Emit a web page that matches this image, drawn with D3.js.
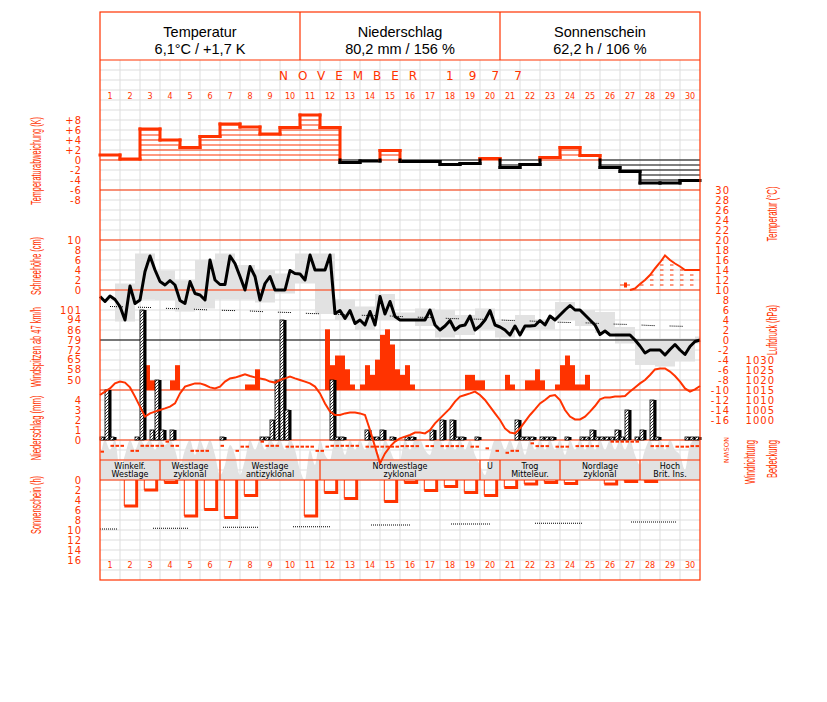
<!DOCTYPE html>
<html>
<head>
<meta charset="utf-8">
<script src="https://cdn.jsdelivr.net/npm/d3@7"></script>
<style>
  body { margin: 0; background: #fff; }
  svg { display: block; }
</style>
</head>
<body>
<svg id="chart" width="827" height="702"></svg>
<script>
// ---- data ----
const headerTitles = ["Temperatur", "Niederschlag", "Sonnenschein"];
const headerValues = ["6,1°C / +1,7 K", "80,2 mm / 156 %", "62,2 h / 106 %"];
const monthName = "NOVEMBER";
const yearName = "1977";
const days = [1,2,3,4,5,6,7,8,9,10,11,12,13,14,15,16,17,18,19,20,21,22,23,24,25,26,27,28,29,30];

// daily temperature deviation (K)
const tempDev = [1.0,0.2,6.2,4.0,2.5,4.7,7.2,6.6,5.2,6.5,9.0,6.5,-0.5,-0.2,1.9,-0.3,-0.3,-0.9,-0.7,0.3,
  -1.5,-0.9,0.5,2.5,0.9,-1.5,-2.3,-4.6,-4.6,-4.1];

// air temperature every 6 h (°C), 121 values
const tempAir = [
  8.7,7.7,8.8,8.1, 6.7,4.0,10.8,7.3, 8.0,13.7,16.8,14.0, 11.7,11.0,11.9,11.0, 7.9,7.3,11.7,9.3,
  9.0,8.0,16.0,12.0, 11.1,11.1,16.8,15.3, 12.7,10.0,14.7,12.7, 8.0,11.3,12.7,10.0, 10.0,10.0,13.9,13.3,
  13.2,12.0,17.0,14.0, 14.0,14.0,17.0,5.3, 5.9,4.3,5.9,3.3, 4.0,3.0,5.7,3.0, 8.7,5.2,7.7,4.7,
  4.0,4.0,4.0,4.0, 4.0,4.0,6.0,3.0, 2.0,2.8,3.9,2.0, 2.8,3.0,4.8,2.0, 2.8,4.0,5.9,3.0,
  2.6,2.0,1.0,2.8, 1.0,2.8,2.8,2.9, 3.9,3.0,4.8,4.0, 5.0,6.0,6.9,6.0, 6.0,5.0,4.0,3.0,
  1.1,1.8,1.0,1.0, 1.0,1.0,1.0,0.0, -1.2,-2.6,-2.0,-2.0, -2.0,-3.0,-1.9,-0.9, -2.0,-2.9,-1.3,-0.3,
  0.0];
const tempMax = [11.3,17.3,13.9,11.9,16.0,17.3,15.0,14.0,13.3,17.3,17.3,8.1,6.7,9.2,5.5,6.3,6.0,5.0,6.3,3.7,
  5.0,4.0,7.6,6.0,5.6,2.6,0.3,0.3,0.3,0.7];
const tempMin = [3.7,8.1,8.0,5.7,6.3,8.1,8.1,7.5,9.3,11.3,5.2,4.0,2.0,4.0,3.8,2.8,0.5,1.0,2.1,0.5,
  2.0,2.1,4.0,2.8,1.4,-0.7,-5.0,-5.3,-4.3,-0.7];
const tempNormal = [6.7,6.6,6.5,6.3,6.2,6.0,5.9,5.8,5.6,5.5,5.3,5.2,5.0,4.9,4.8,4.6,4.5,4.3,4.2,4.1,
  3.9,3.8,3.6,3.5,3.4,3.2,3.1,2.9,2.8,2.7];

// snow depth (cm) every 6 h from slot 106 on
const snowStartSlot = 106;
const snowDepth = [0,0.3,1.2,2.0,3.0,4.3,5.5,6.9,6.0,5.3,4.7,4.0,4.0,4.0,4.0];
const snowMarkDay = [27];
const snowMarkCm = [1];

// wind gusts per 6 h (km/h), 0 = none
const windGust = [
  0,0,0,0, 0,0,0,0, 0,61,50,0, 0,0,50,61, 0,0,0,0, 0,0,0,0, 0,0,0,0, 0,47,47,58,
  0,0,0,0, 0,0,0,0, 0,0,0,0, 0,87,61,68, 68,58,47,0, 47,61,54,65, 83,87,76,58, 54,61,47,0,
  0,0,0,0, 0,0,0,0, 0,54,54,50, 50,0,0,0, 0,54,47,0, 0,50,50,58, 50,0,0,47, 61,68,61,47,
  47,54,0,0, 0,0,0,0, 0,0,0,0, 0,0,0,0, 0,0,0,0, 0,0,0,0];

// precipitation per 6 h (mm)
const precip = [
  0.1,5.0,0.1,0, 0,0,0,0.1, 13.0,0,1.0,6.0, 1.0,0,1.0,0, 0,0,0,0, 0,0,0,0, 0.2,0,0,0, 0,0,0,0,
  0.1,0.1,2.0,6.0, 12.0,3.0,0,0, 0,0,0,0, 0,0,6.0,0.1, 0.1,0,0,0, 0,1.0,0.1,0.1, 1.0,0,0.1,0, 0,0.1,0.1,0,
  0,0,1.0,0, 2.0,0,2.0,0.1, 0.1,0,0,0.1, 0,0,0,0, 0,0,0,2.0, 0.1,0.1,0.1,0, 0.1,0.1,0.1,0, 0,0.1,0,0,
  0.1,0.1,1.0,0.1, 0.1,0.1,0.1,1.0, 0.1,3.0,0,0.1, 1.0,0,4.0,0.1, 0,0,0,0, 0,0.1,0.1,0.1];

// air pressure every 6 h (hPa), 121 values
const pressure = [
  1012.5,1014.2,1015.8,1018.3,1019.2,1018.7,1016.3,1011.7,1006.7,1001.7,1003.3,1004.2,1005,1005.8,1006.7,1008.3,
  1013.3,1016.7,1017.5,1018.3,1018.3,1017.5,1016.3,1015.8,1016.7,1019.2,1020.8,1021.2,1022,1022.8,1022,1021.3,
  1020.8,1020.3,1019.2,1018.7,1020,1020.8,1021.7,1020.8,1020,1019.2,1018.3,1016.7,1013.3,1008.3,1004.2,1002.5,
  1002.5,1003.3,1003.7,1003.7,1003.3,1002.5,995,986.7,978.3,983.3,986.7,989.2,990.8,991.7,992.5,993.7,993.7,
  993.3,995,998.3,1000.8,1003.3,1005.8,1009.2,1011.7,1012.5,1013.3,1014.2,1012.5,1010,1006.7,1003.3,1000,
  995.8,993.7,993.3,995.8,999.2,1002.5,1005.3,1008.3,1010,1012,1012.5,1010,1005,1001.7,1000.3,1000.3,1001.7,
  1004.2,1007,1010.3,1011.3,1011.3,1011.7,1011.7,1012,1014.2,1016.3,1018.3,1020,1022.5,1025.3,1025.8,1025.8,
  1024.2,1022,1019.2,1015.8,1014.2,1015.3,1017];

// sunshine per day (h) and possible sunshine segments [from, to (days), hours]
const sunshine = [0,5.2,2.0,0.5,7.2,5.9,7.5,3.1,0,0,7.2,2.5,3.7,0,4.3,0.5,2.1,1.3,2.5,3.1,
  1.5,0.8,0.5,0.7,0,0.8,0.3,0.3,0,0];
const sunPossible = [[0,0.9,9.8],[2.65,4.4,9.65],[6.15,7.9,9.45],[9.65,11.5,9.35],[13.55,15.5,9.0],
  [17.55,19.5,8.8],[21.75,24.1,8.65],[26.55,28.8,8.4]];

// cloud cover every 6 h (octas), 121 values
const cloud = [
  4,8,6,8, 2,5,8,6, 8,7,8,6, 8,7,8,6, 3,6,8,5, 8,6,8,5, 1,3,7,5, 1,4,8,6, 8,6,8,7, 8,6,8,6,
  2,0,6,3, 8,5,4,8, 8,5,8,6, 8,6,8,6, 5,8,6,4, 4,8,6,8, 8,6,5,8, 8,6,8,6, 8,6,8,5, 3,1,5,8,
  8,6,8,6, 8,5,8,6, 8,6,8,6, 8,5,8,6, 8,6,8,6, 8,6,8,6, 8,6,8,5, 3,6,8,6, 8,6,8,6, 5,2,7,8, 8];

// wind direction every 6 h (degrees), null = calm
const windDir = [
  210,null,105,105, 105,null,195,195, 105,105,105,105, 105,30,105,105, null,null,195,195,
  195,195,null,null, 105,null,null,195, 120,120,null,null, 30,105,105,105, null,120,120,120,
  120,120,120,195, 195,120,105,105, 105,105,105,105, null,120,120,120, 120,120,120,120,
  110,110,110,110, null,110,110,null, 110,110,110,110, 110,null,120,120, null,150,null,195,
  null,230,195,195, null,null,60,110, 110,110,null,120, 120,120,null,110, 110,110,110,110,
  null,null,30,30, 30,30,30,30, null,null,110,110, 110,110,null,120, 120,120,110,110];

// Grosswetterlagen
const wxFrom = [1,4,7,12,20,21,24,28];
const wxTo = [3,6,11,19,20,23,27,30];
const wxLine1 = ["Winkelf.","Westlage","Westlage","Nordwestlage","U","Trog","Nordlage","Hoch"];
const wxLine2 = ["Westlage","zyklonal","antizyklonal","zyklonal","","Mitteleur.","zyklonal","Brit. Ins."];

// tick values
const devTicks = [8,6,4,2,0,-2,-4,-6,-8];
const snowTicks = [10,8,6,4,2,0];
const windTicks = [101,94,86,79,72,65,58,50];
const precTicks = [4,3,2,1,0];
const sunTicks = [0,2,4,6,8,10,12,14,16];
const tempTicks = [30,28,26,24,22,20,18,16,14,12,10,8,6,4,2,0,-2,-4,-6,-8,-10,-12,-14,-16];
const presTicks = [1030,1025,1020,1015,1010,1005,1000];

// ---- drawing ----
const RED = "#ff3300";
const GRID = "#dddddd";
const FILL = "#e2e2e2";
const FONT = "DejaVu Sans, sans-serif";
const NARROW = "Liberation Sans Narrow, Liberation Sans, sans-serif";

const fL = 100, fR = 700, fT = 12, fB = 580;

const x = d3.scaleLinear().domain([0, 30]).range([fL, fR]);
const slotX = i => x(i / 4);
const yDev = d3.scaleLinear().domain([-8, 8]).range([200, 120]);
const yTemp = d3.scaleLinear().domain([-16, 30]).range([420, 190]);
const ySnow = d3.scaleLinear().domain([0, 10]).range([290, 240]);
const yWind = d3.scaleLinear().domain([43, 101]).range([390, 310]);
const yPrec = d3.scaleLinear().domain([0, 4]).range([440, 400]);
const yPres = d3.scaleLinear().domain([1000, 1030]).range([420, 360]);
const ySun = d3.scaleLinear().domain([0, 16]).range([480, 560]);
const yCloud = d3.scaleLinear().domain([0, 8]).range([480, 440]);
const yDir = d3.scaleLinear().domain([0, 360]).range([440, 460]);

const svg = d3.select("#chart");
const defs = svg.append("defs");

const hatch = defs.append("pattern")
    .attr("id", "hatch")
    .attr("patternUnits", "userSpaceOnUse")
    .attr("width", 3).attr("height", 3);
hatch.append("rect").attr("width", 3).attr("height", 3).attr("fill", "#fff");
hatch.append("path")
    .attr("d", "M-1,1 l2,-2 M0,3 l3,-3 M2,4 l2,-2")
    .attr("stroke", "#000").attr("stroke-width", 0.8);

// grid
const grid = svg.append("g");
grid.selectAll("line.v").data(days.slice(0, 29)).join("line")
    .attr("x1", d => x(d)).attr("x2", d => x(d))
    .attr("y1", 60).attr("y2", fB)
    .attr("stroke", GRID);
grid.selectAll("line.h").data(d3.range(70, fB, 10)).join("line")
    .attr("x1", fL).attr("x2", fR)
    .attr("y1", d => d).attr("y2", d => d)
    .attr("stroke", GRID);

// cloud cover
const cloudArea = d3.area()
    .x((d, i) => slotX(i))
    .y0(yCloud(0))
    .y1(d => yCloud(d))
    .curve(d3.curveMonotoneX);
svg.append("path")
    .attr("d", cloudArea(cloud))
    .attr("fill", FILL);

// daily temperature range boxes
svg.append("g").selectAll("rect").data(days).join("rect")
    .attr("x", d => x(d - 0.25))
    .attr("width", d => Math.min(x(d + 0.75), fR) - x(d - 0.25))
    .attr("y", (d, i) => yTemp(tempMax[i]))
    .attr("height", (d, i) => yTemp(tempMin[i]) - yTemp(tempMax[i]))
    .attr("fill", FILL);

// red panel separators
svg.append("g").selectAll("line").data([60, 190, 240, 290, 390, 440, 460, 480]).join("line")
    .attr("x1", fL).attr("x2", fR)
    .attr("y1", d => d).attr("y2", d => d)
    .attr("stroke", RED).attr("stroke-width", 1.2);

// 0 °C line
svg.append("line")
    .attr("x1", fL).attr("x2", fR)
    .attr("y1", yTemp(0)).attr("y2", yTemp(0))
    .attr("stroke", "#000");

// temperature deviation: hatch lines
const devG = svg.append("g");
const hatchLines = [];
tempDev.forEach((v, k) => {
  const s = v >= 0 ? 1 : -1;
  for (let j = 0; j <= Math.floor(Math.abs(v)); j++) hatchLines.push({ day: k + 1, val: s * j, col: v >= 0 ? RED : "#000" });
});
devG.selectAll("line.hl").data(hatchLines).join("line")
    .attr("x1", d => x(d.day - 1)).attr("x2", d => x(d.day))
    .attr("y1", d => yDev(d.val)).attr("y2", d => yDev(d.val))
    .attr("stroke", d => d.col);

// temperature deviation: thick outline
devG.selectAll("line.top").data(tempDev).join("line")
    .attr("x1", (v, i) => x(i)).attr("x2", (v, i) => x(i + 1))
    .attr("y1", v => yDev(v)).attr("y2", v => yDev(v))
    .attr("stroke", v => v >= 0 ? RED : "#000")
    .attr("stroke-width", 3).attr("stroke-linecap", "square");
const connectors = [];
for (let k = 0; k < tempDev.length - 1; k++) {
  const a = tempDev[k], b = tempDev[k + 1];
  const hi = Math.max(a, b), lo = Math.min(a, b);
  if (lo >= 0) connectors.push({ t: k + 1, y1: hi, y2: lo, col: RED });
  else if (hi < 0) connectors.push({ t: k + 1, y1: hi, y2: lo, col: "#000" });
  else {
    connectors.push({ t: k + 1, y1: hi, y2: 0, col: RED });
    connectors.push({ t: k + 1, y1: 0, y2: lo, col: "#000" });
  }
}
devG.selectAll("line.con").data(connectors).join("line")
    .attr("x1", d => x(d.t)).attr("x2", d => x(d.t))
    .attr("y1", d => yDev(d.y1)).attr("y2", d => yDev(d.y2))
    .attr("stroke", d => d.col)
    .attr("stroke-width", 3).attr("stroke-linecap", "square");

// snow depth
const snowArea = d3.area()
    .x((d, i) => slotX(snowStartSlot + i))
    .y0(ySnow(0))
    .y1(d => ySnow(d));
defs.append("clipPath").attr("id", "snowclip")
    .append("path").attr("d", snowArea(snowDepth));
svg.append("g").attr("clip-path", "url(#snowclip)")
    .selectAll("line").data([1,2,3,4,5,6,7,8,9]).join("line")
    .attr("x1", fL).attr("x2", fR)
    .attr("y1", d => ySnow(d)).attr("y2", d => ySnow(d))
    .attr("stroke", RED).attr("stroke-dasharray", "3.5,6.5");
svg.append("path")
    .attr("d", d3.line().x((d, i) => slotX(snowStartSlot + i)).y(d => ySnow(d))(snowDepth))
    .attr("fill", "none").attr("stroke", RED).attr("stroke-width", 2);
snowMarkDay.forEach((d, i) => {
  svg.append("line")
      .attr("x1", x(d - 1)).attr("x2", x(d - 0.5))
      .attr("y1", ySnow(snowMarkCm[i])).attr("y2", ySnow(snowMarkCm[i]))
      .attr("stroke", RED);
  svg.append("rect")
      .attr("x", x(d - 0.8)).attr("y", ySnow(snowMarkCm[i]) - 2.5)
      .attr("width", 3).attr("height", 5).attr("fill", RED);
});

// climatological temperature (dotted)
svg.append("path")
    .attr("d", d3.line().x((v, i) => x(i + 0.5)).y(v => yTemp(v))(tempNormal))
    .attr("fill", "none").attr("stroke", "#000")
    .attr("stroke-dasharray", "1,1,1,1,1,1,1,1,1,1,1,1,1,15");

// wind gusts
svg.append("g").selectAll("rect")
    .data(windGust.map((v, i) => ({ i, v })).filter(d => d.v > 0)).join("rect")
    .attr("x", d => slotX(d.i)).attr("width", slotX(1) - slotX(0))
    .attr("y", d => yWind(d.v)).attr("height", d => yWind(43) - yWind(d.v))
    .attr("fill", RED);

// precipitation
const precG = svg.append("g");
precip.forEach((v, i) => {
  if (v <= 0) return;
  const h = Math.max(yPrec(0) - yPrec(v), 3);
  const x0 = slotX(i);
  precG.append("rect")
      .attr("x", x0).attr("y", yPrec(0) - h)
      .attr("width", 4).attr("height", h)
      .attr("fill", "url(#hatch)").attr("stroke", "#000").attr("stroke-width", 0.8);
  precG.append("rect")
      .attr("x", x0 + 3.5).attr("y", yPrec(0) - h)
      .attr("width", 3).attr("height", h)
      .attr("fill", "#000");
});

// wind direction marks
svg.append("g").selectAll("rect")
    .data(windDir.map((v, i) => ({ i, v })).filter(d => d.v !== null)).join("rect")
    .attr("x", d => slotX(d.i) + 0.5).attr("y", d => yDir(d.v) - 1)
    .attr("width", 3.5).attr("height", 2)
    .attr("fill", RED);

// sunshine bars
const sunG = svg.append("g");
sunshine.forEach((v, k) => {
  if (v <= 0) return;
  const x0 = x(k) + 4.3, x1 = x(k) + 16.7, yb = ySun(v);
  sunG.append("line").attr("x1", x0).attr("x2", x0).attr("y1", ySun(0)).attr("y2", yb)
      .attr("stroke", RED);
  sunG.append("path")
      .attr("d", `M${x0},${yb}H${x1}V${ySun(0)}`)
      .attr("fill", "none").attr("stroke", RED).attr("stroke-width", 3);
});
sunG.selectAll("line.pos").data(sunPossible).join("line")
    .attr("x1", d => x(d[0])).attr("x2", d => x(d[1]))
    .attr("y1", d => ySun(d[2])).attr("y2", d => ySun(d[2]))
    .attr("stroke", "#000").attr("stroke-dasharray", "1,1");

// air temperature line
svg.append("path")
    .attr("d", d3.line().x((v, i) => slotX(i)).y(v => yTemp(v))(tempAir))
    .attr("fill", "none").attr("stroke", "#000").attr("stroke-width", 3)
    .attr("stroke-linejoin", "round");

// pressure line
svg.append("path")
    .attr("d", d3.line().x((v, i) => slotX(i)).y(v => yPres(v))(pressure))
    .attr("fill", "none").attr("stroke", RED).attr("stroke-width", 2);

// weather types
const wxG = svg.append("g");
wxFrom.forEach((f, i) => {
  const cx = (x(f - 1) + x(wxTo[i])) / 2;
  if (i > 0) wxG.append("line")
      .attr("x1", x(f - 1)).attr("x2", x(f - 1)).attr("y1", 460).attr("y2", 480)
      .attr("stroke", RED).attr("stroke-width", 1.2);
  wxG.append("text").attr("x", cx).attr("y", 468.5).text(wxLine1[i]);
  wxG.append("text").attr("x", cx).attr("y", 477).text(wxLine2[i]);
});
wxG.selectAll("text")
    .attr("text-anchor", "middle").attr("font-family", FONT)
    .attr("font-size", 8).attr("fill", "#000");

// frame and header
svg.append("rect")
    .attr("x", fL).attr("y", fT).attr("width", fR - fL).attr("height", fB - fT)
    .attr("fill", "none").attr("stroke", RED).attr("stroke-width", 1.2);
[300, 500].forEach(xx => svg.append("line")
    .attr("x1", xx).attr("x2", xx).attr("y1", fT).attr("y2", 60)
    .attr("stroke", RED).attr("stroke-width", 1.2));
headerTitles.forEach((t, i) => {
  const cx = fL + 100 + i * 200;
  svg.append("text").attr("x", cx).attr("y", 37).text(t)
      .attr("text-anchor", "middle").attr("font-family", "Liberation Sans, Arial, sans-serif")
      .attr("font-size", 14.5);
  svg.append("text").attr("x", cx).attr("y", 53.5).text(headerValues[i])
      .attr("text-anchor", "middle").attr("font-family", "Liberation Sans, Arial, sans-serif")
      .attr("font-size", 14.5);
});
svg.append("text").attr("x", 279).attr("y", 79.5).text(monthName)
    .attr("textLength", 138).attr("lengthAdjust", "spacing")
    .attr("font-family", FONT).attr("font-size", 12).attr("fill", RED);
svg.append("text").attr("x", 446).attr("y", 79.5).text(yearName)
    .attr("textLength", 76).attr("lengthAdjust", "spacing")
    .attr("font-family", FONT).attr("font-size", 12).attr("fill", RED);

// day numbers top and bottom
[99, 568].forEach(yy => svg.append("g").selectAll("text").data(days).join("text")
    .attr("x", d => x(d - 0.5)).attr("y", yy)
    .attr("text-anchor", "middle")
    .attr("font-family", FONT).attr("font-size", 8).attr("fill", RED)
    .text(d => d));

// axes
function styleAxis(g) {
  g.select(".domain").remove();
  g.selectAll("text")
      .attr("fill", RED).attr("font-family", FONT).attr("font-size", 10)
      .attr("letter-spacing", 1);
}
const signed = v => v > 0 ? "+" + v : v < 0 ? "-" + Math.abs(v) : "0";
const plain = v => v < 0 ? "-" + Math.abs(v) : String(v);
svg.append("g").attr("transform", "translate(85,0)")
    .call(d3.axisLeft(yDev).tickValues(devTicks).tickSize(0).tickPadding(3).tickFormat(signed))
    .call(styleAxis);
svg.append("g").attr("transform", "translate(85,0)")
    .call(d3.axisLeft(ySnow).tickValues(snowTicks).tickSize(0).tickPadding(3).tickFormat(plain))
    .call(styleAxis);
svg.append("g").attr("transform", "translate(85,0)")
    .call(d3.axisLeft(yWind).tickValues(windTicks).tickSize(0).tickPadding(3).tickFormat(plain))
    .call(styleAxis);
svg.append("g").attr("transform", "translate(85,0)")
    .call(d3.axisLeft(yPrec).tickValues(precTicks).tickSize(0).tickPadding(3).tickFormat(plain))
    .call(styleAxis);
svg.append("g").attr("transform", "translate(85,0)")
    .call(d3.axisLeft(ySun).tickValues(sunTicks).tickSize(0).tickPadding(3).tickFormat(plain))
    .call(styleAxis);
svg.append("g").attr("transform", "translate(733,0)")
    .call(d3.axisLeft(yTemp).tickValues(tempTicks).tickSize(0).tickPadding(3).tickFormat(plain))
    .call(styleAxis);
svg.append("g").attr("transform", "translate(778,0)")
    .call(d3.axisLeft(yPres).tickValues(presTicks).tickSize(0).tickPadding(3).tickFormat(plain))
    .call(styleAxis);

// rotated titles
const titles = [
  { t: "Temperaturabweichung (K)", x: 41, y: 161, len: 88 },
  { t: "Schneehöhe (cm)", x: 41, y: 266, len: 58 },
  { t: "Windspitzen ab 47 km/h", x: 41, y: 347, len: 80 },
  { t: "Niederschlag (mm)", x: 41, y: 428, len: 65 },
  { t: "Sonnenschein (h)", x: 41, y: 505, len: 58 },
  { t: "Temperatur (°C)", x: 777, y: 214, len: 55 },
  { t: "Luftdruck (hPa)", x: 777, y: 330, len: 50 },
  { t: "Windrichtung", x: 755, y: 462, len: 44 },
  { t: "Bedeckung", x: 777, y: 459, len: 38 }
];
svg.append("g").selectAll("text").data(titles).join("text")
    .attr("transform", d => `translate(${d.x},${d.y}) rotate(-90)`)
    .attr("text-anchor", "middle")
    .attr("textLength", d => d.len).attr("lengthAdjust", "spacingAndGlyphs")
    .attr("font-family", NARROW).attr("font-size", 14).attr("fill", RED)
    .text(d => d.t);
svg.append("text")
    .attr("transform", "translate(724,437) rotate(90)")
    .attr("textLength", 26).attr("lengthAdjust", "spacing")
    .attr("font-family", FONT).attr("font-size", 6.5).attr("fill", RED)
    .text("NOSWN");
</script>
</body>
</html>
